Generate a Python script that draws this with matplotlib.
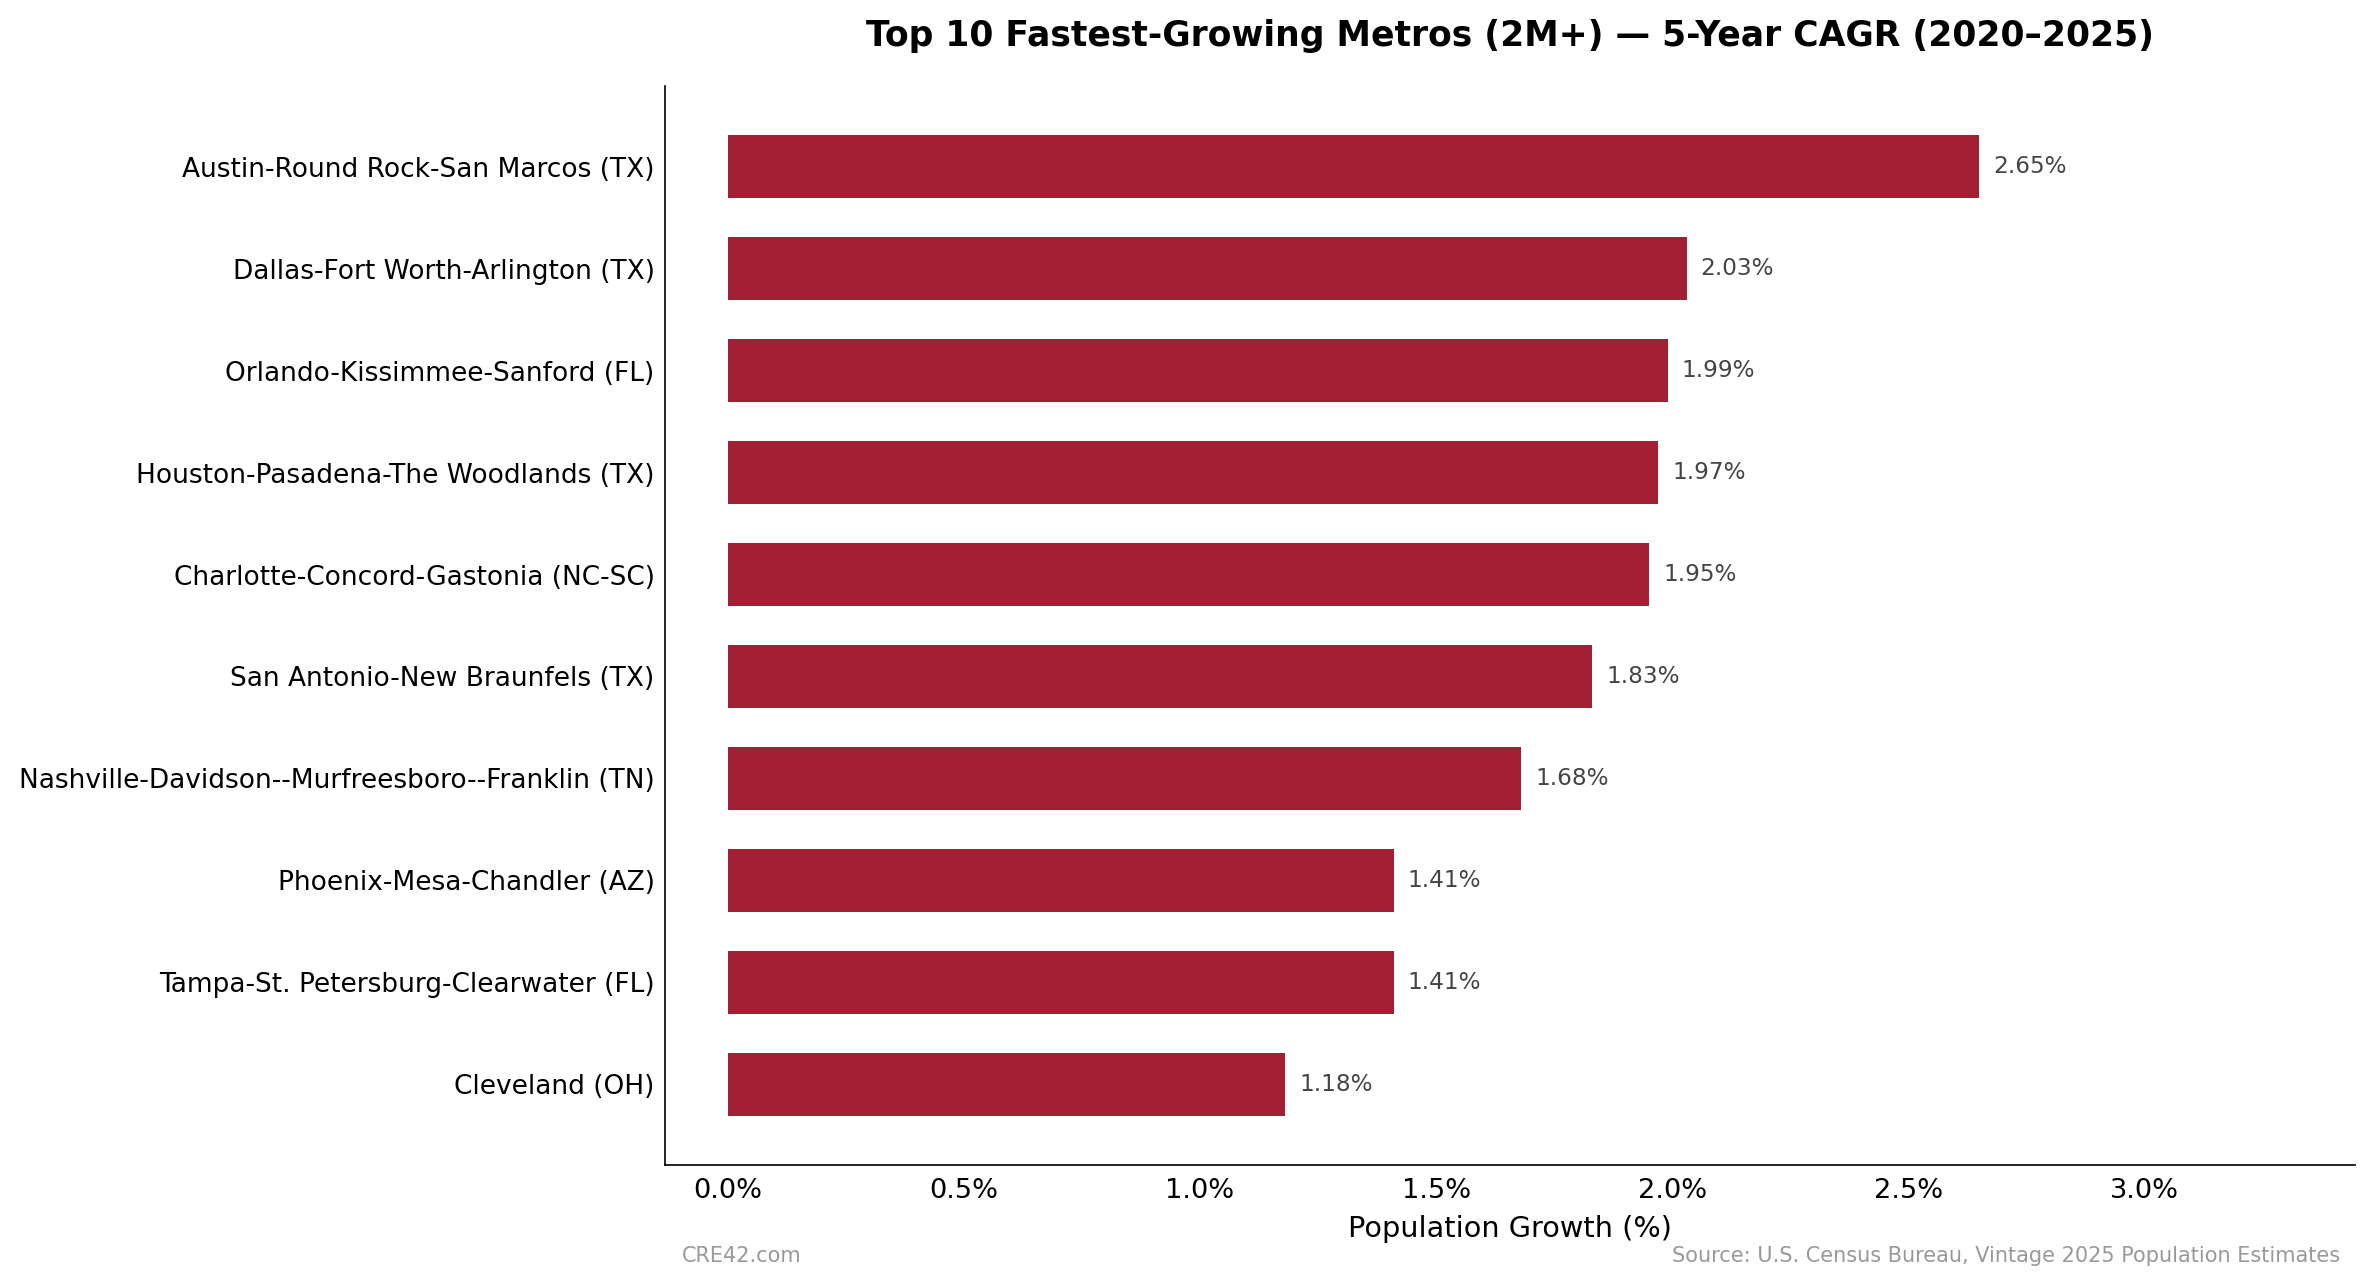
import matplotlib
matplotlib.use("Agg")
import matplotlib.pyplot as plt
from matplotlib.ticker import FuncFormatter

metros = [
    "Austin-Round Rock-San Marcos (TX)",
    "Dallas-Fort Worth-Arlington (TX)",
    "Orlando-Kissimmee-Sanford (FL)",
    "Houston-Pasadena-The Woodlands (TX)",
    "Charlotte-Concord-Gastonia (NC-SC)",
    "San Antonio-New Braunfels (TX)",
    "Nashville-Davidson--Murfreesboro--Franklin (TN)",
    "Phoenix-Mesa-Chandler (AZ)",
    "Tampa-St. Petersburg-Clearwater (FL)",
    "Cleveland (OH)",
]
cagr = [2.65, 2.03, 1.99, 1.97, 1.95, 1.83, 1.68, 1.41, 1.41, 1.18]
xticks = [0.0, 0.5, 1.0, 1.5, 2.0, 2.5, 3.0]

title = "Top 10 Fastest-Growing Metros (2M+) \u2014 5-Year CAGR (2020\u20132025)"
xlabel = "Population Growth (%)"
left_note = "CRE42.com"
right_note = "Source: U.S. Census Bureau, Vintage 2025 Population Estimates"

color = "#A31F34"

fig = plt.figure(figsize=(2375/150, 1286/150), dpi=150)
ax = fig.add_axes([665/2375, 1 - 1165/1286, (2355-665)/2375, (1165-86)/1286])

ypos = list(range(len(metros)))[::-1]
ax.barh(ypos, cagr, height=0.62, color=color)
ax.set_yticks(ypos)
ax.set_yticklabels(metros, fontsize=12.65)
ax.set_xticks(xticks)
ax.xaxis.set_major_formatter(FuncFormatter(lambda v, p: f"{v:.1f}%"))
ax.tick_params(axis="x", labelsize=13.1, length=0, pad=6)
ax.tick_params(axis="y", length=0, pad=5)
ax.set_xlim(-0.1325, max(cagr) * 1.3)
ax.set_ylim(-0.79, 9.79)
for s in ["top", "right"]:
    ax.spines[s].set_visible(False)
ax.spines["left"].set_linewidth(0.8)
ax.spines["bottom"].set_linewidth(0.8)

for y, v in zip(ypos, cagr):
    ax.text(v + 0.03, y, f"{v:.2f}%", va="center", ha="left", fontsize=11.1, color="#444444")

ax.set_xlabel(xlabel, fontsize=13.8, labelpad=5.5)
ax.set_title(title, fontsize=16.6, fontweight="bold", pad=19)

fig.text(682/2375, 1 - 1256/1286, left_note, fontsize=10, color="#999999", ha="left", va="center")
fig.text(2340/2375, 1 - 1256/1286, right_note, fontsize=10, color="#999999", ha="right", va="center")

fig.savefig("out.png", dpi=150)
